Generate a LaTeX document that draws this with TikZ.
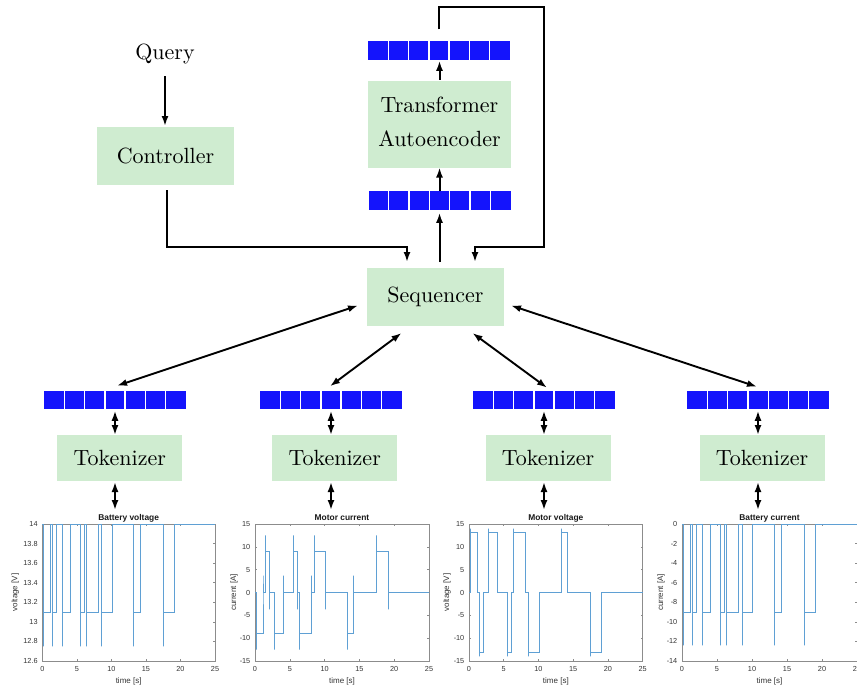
\documentclass[tikz,border=0pt]{standalone}
\usepackage{fontspec}
\usepackage{graphicx}
\newfontfamily\plotfont{Liberation Sans}
\usetikzlibrary{arrows.meta,calc}
\definecolor{boxgreen}{RGB}{207,236,208}
\definecolor{tokblue}{RGB}{20,20,252}
\definecolor{sigblue}{RGB}{95,160,212}
% block labels: 10pt text enlarged, so the 10pt design size is kept
\newcommand\blk[1]{\scalebox{2.2}{#1}}
\newcommand\ticksize{\plotfont\fontsize{7.3}{8.5}\selectfont}
\newcommand\labsize{\plotfont\fontsize{8}{9.5}\selectfont}
\newcommand\titlesize{\plotfont\bfseries\fontsize{8.4}{9.5}\selectfont}
% switching intervals of the motor: start/end/sign
\newcommand\onlist{0.15/1.15/1, 1.5/2.1/-1, 2.85/4.05/1, 5.5/6.1/-1, 6.35/8.1/1, 8.55/10.1/-1, 13.25/14.15/1, 17.5/19.1/-1}
\tikzset{
  mytip/.tip={Latex[length=10pt,width=7pt]},
  box/.style={fill=boxgreen, inner sep=0pt, outer sep=0pt},
  tokbar/.style={fill=tokblue, inner sep=0pt, outer sep=0pt, minimum width=142pt, minimum height=18.5pt,
    path picture={\foreach \i in {1,...,6}
      \draw[white, line width=1.3pt] ([xshift=\i*20.286pt]path picture bounding box.south west)
        -- ([xshift=\i*20.286pt]path picture bounding box.north west);}},
  arr/.style={line width=2pt, -mytip},
  darr/.style={line width=1.9pt, mytip-mytip},
  axisline/.style={black!45, line width=0.5pt},
  sig/.style={sigblue, line width=0.7pt, line join=miter},
  ticklab/.style={font=\ticksize, text=black!80, inner sep=0pt},
}
% axes frame: x0, width, ymin, ymax, ticks, title, ylabel, ylabel offset
\newenvironment{sigaxes}[8]{%
  \pgfmathsetmacro\sxu{#2/25}%
  \pgfmathsetmacro\syu{137/(#4-(#3))}%
  \pgfmathsetmacro\sys{-661-(#3)*\syu}%
  \begin{scope}[xshift=#1pt, yshift=\sys pt, x=\sxu pt, y=\syu pt]
  \draw[axisline] (0,#3) rectangle (25,#4);
  \foreach \t in {0,5,...,25} {
    \draw[axisline] (\t,#3) -- ++(0pt,2pt);
    \draw[axisline] (\t,#4) -- ++(0pt,-2pt);
    \node[ticklab, anchor=base, yshift=-10.6pt] at (\t,#3) {\t};
  }
  \foreach \v/\l in {#5} {
    \draw[axisline] (0,\v) -- ++(2pt,0pt);
    \draw[axisline] (25,\v) -- ++(-2pt,0pt);
    \node[ticklab, anchor=east, xshift=-4.5pt] at (0,\v) {\l};
  }
  \node[font=\titlesize, text=black!90, anchor=base, yshift=4pt] at (12.5,#4) {#6};
  \node[font=\labsize, text=black!80, anchor=base, yshift=-22pt] at (12.5,#3) {time [s]};
  \node[font=\labsize, text=black!80, xshift=#8pt, rotate=90] at (0,{((#3)+(#4))/2}) {#7};
}{\end{scope}}

\begin{document}
\begin{tikzpicture}[x=1pt, y=-1pt]
\useasboundingbox (0,0) rectangle (857,689);
\clip (0,0) rectangle (857,689);

% ---- upper part: query, controller, autoencoder, sequencer ----
\node[inner sep=0pt] (query) at (165,54) {\blk{Query}};
\node[box, minimum width=137pt, minimum height=58pt] (ctrl) at (165.5,156) {\blk{Controller}};
\node[box, minimum width=143pt, minimum height=87pt] (tae) at (439.5,124)
  {\blk{\begin{tabular}{@{}c@{}}Transformer\\[3.3pt]Autoencoder\end{tabular}}};
\node[tokbar] (topbar) at (439,50.5) {};
\node[tokbar] (midbar) at (439.5,200.5) {};
\node[box, minimum width=137pt, minimum height=58pt] (seq) at (435.5,297) {\blk{Sequencer}};

\coordinate (cin) at ($(seq.north west)+(40,0)$);
\coordinate (cfb) at ($(seq.north west)+(108,0)$);
\coordinate (fbtop) at (544,7.3);

\draw[arr, shorten <=12pt, shorten >=1pt] (query.south) -- (query.south |- ctrl.north);
\draw[arr, shorten <=5pt, shorten >=6pt] ([xshift=1.5pt]ctrl.south) |- ([yshift=21pt]cin) -- (cin);
\draw[arr, shorten <=6pt, shorten >=3pt] (midbar.south |- seq.north) -- (midbar.south);
\draw[arr] (midbar.north) -- (midbar.north |- tae.south);
\draw[arr, shorten <=1pt, shorten >=1pt] (tae.north) -- (tae.north |- topbar.south);
\draw[arr, shorten <=12pt, shorten >=6pt] (topbar.north) |- (fbtop) |- ([yshift=21pt]cfb) -- (cfb);

% ---- lower part: token bars and tokenizers ----
\foreach \n/\bx/\tx in {1/115/119.8, 2/331/334.7, 3/544/548, 4/758/762} {
  \node[tokbar] (bar\n) at (\bx,400) {};
  \node[box, minimum width=125pt, minimum height=46pt] (tok\n) at (\tx,458) {\blk{Tokenizer}};
  \coordinate (sig\n) at ($(bar\n.south |- tok\n.south)+(0,29)$);
  \draw[darr, shorten <=1.5pt] (bar\n.south) -- (bar\n.south |- tok\n.north);
  \draw[darr, shorten <=1pt] (bar\n.south |- tok\n.south) -- (sig\n);
}

\draw[darr] ([xshift=-9pt,yshift=-8.5pt]seq.west) -- ([xshift=2pt,yshift=5pt]bar1.north);
\draw[darr] ([xshift=-34pt,yshift=-7pt]seq.south) -- ([xshift=-1pt,yshift=4.5pt]bar2.north);
\draw[darr] ([xshift=37pt,yshift=-7pt]seq.south) -- ([xshift=3pt,yshift=3pt]bar3.north);
\draw[darr] ([xshift=7pt,yshift=-8.5pt]seq.east) -- ([xshift=-1pt,yshift=4pt]bar4.north);

% ---- signal plots ----
\begin{sigaxes}{42.3}{172.7}{12.6}{14}{12.6/12.6,12.8/12.8,13/13,13.2/13.2,13.4/13.4,13.6/13.6,13.8/13.8,14/14}{Battery voltage}{voltage [V]}{-27}
  \draw[sig] (0,14) \foreach \s/\e/\g in \onlist {
    -- (\s,14) -- (\s,12.75) -- (\s,13.1) -- (\e,13.1) -- (\e,14) } -- (25,14);
\end{sigaxes}

\begin{sigaxes}{255}{174}{-15}{15}{-15/-15,-10/-10,-5/-5,0/0,5/5,10/10,15/15}{Motor current}{current [A]}{-21}
  \draw[sig] (0,0) \foreach \s/\e/\g in \onlist {
    -- (\s,0) -- (\s,{-12.5*(\g)}) -- (\s,{-9*(\g)}) -- (\e,{-9*(\g)}) -- (\e,{3.7*(\g)}) -- (\e,0) } -- (25,0);
\end{sigaxes}

\begin{sigaxes}{469}{173.7}{-15}{15}{-15/-15,-10/-10,-5/-5,0/0,5/5,10/10,15/15}{Motor voltage}{voltage [V]}{-22}
  \draw[sig] (0,0) \foreach \s/\e/\g in \onlist {
    -- (\s,0) -- (\s,{14*(\g)}) -- (\s,{13.2*(\g)}) -- (\e,{13.2*(\g)}) -- (\e,0) } -- (25,0);
\end{sigaxes}

\begin{sigaxes}{682}{175}{-14}{0}{-14/-14,-12/-12,-10/-10,-8/-8,-6/-6,-4/-4,-2/-2,0/0}{Battery current}{current [A]}{-21}
  \draw[sig] (0,0) \foreach \s/\e/\g in \onlist {
    -- (\s,0) -- (\s,-12.4) -- (\s,-9) -- (\e,-9) -- (\e,0) } -- (25,0);
\end{sigaxes}
\end{tikzpicture}
\end{document}
